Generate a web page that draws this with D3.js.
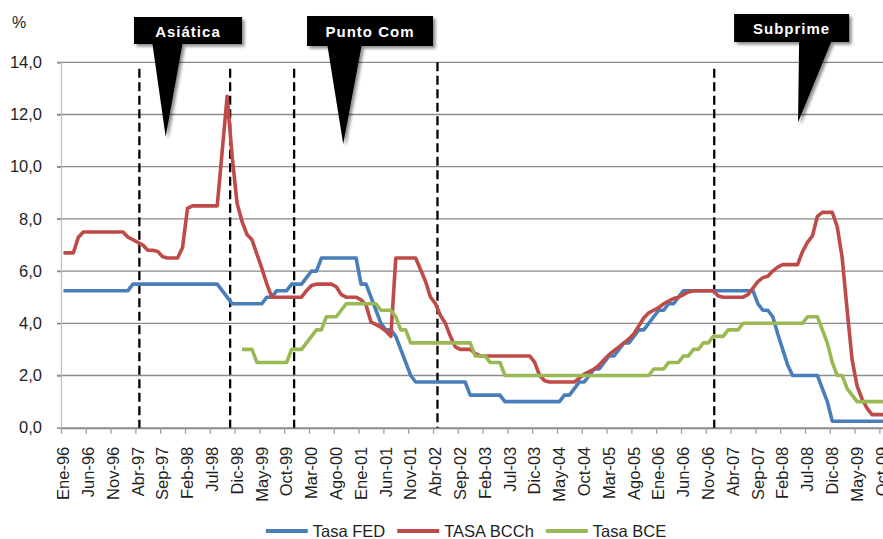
<!DOCTYPE html>
<html>
<head>
<meta charset="utf-8">
<script src="https://cdn.jsdelivr.net/npm/d3@7/dist/d3.min.js"></script>
<style>
  body { margin: 0; background: #fff; }
  svg { display: block; font-family: "Liberation Sans", Arial, sans-serif; }
</style>
</head>
<body>
<svg id="chart" width="883" height="539"></svg>
<script>
// ---- Data -----------------------------------------------------------------
const monthNames = ["Ene","Feb","Mar","Abr","May","Jun","Jul","Ago","Sep","Oct","Nov","Dic"];
const firstYear = 1996;
const monthCount = 168; // Ene-96 .. Dic-09
const categories = d3.range(monthCount).map(i =>
  monthNames[i % 12] + "-" + String((firstYear + Math.floor(i / 12)) % 100).padStart(2, "0"));

// Tasa FED (%), monthly, Ene-96 .. Dic-09
const tasaFED = [
  5.25,5.25,5.25,5.25,5.25,5.25,5.25,5.25,5.25,5.25,5.25,5.25,   // 1996
  5.25,5.25,5.5,5.5,5.5,5.5,5.5,5.5,5.5,5.5,5.5,5.5,             // 1997
  5.5,5.5,5.5,5.5,5.5,5.5,5.5,5.5,5.25,5.0,4.75,4.75,            // 1998
  4.75,4.75,4.75,4.75,4.75,5.0,5.0,5.25,5.25,5.25,5.5,5.5,       // 1999
  5.5,5.75,6.0,6.0,6.5,6.5,6.5,6.5,6.5,6.5,6.5,6.5,              // 2000
  5.5,5.5,5.0,4.5,4.0,3.75,3.75,3.5,3.0,2.5,2.0,1.75,            // 2001
  1.75,1.75,1.75,1.75,1.75,1.75,1.75,1.75,1.75,1.75,1.25,1.25,   // 2002
  1.25,1.25,1.25,1.25,1.25,1.0,1.0,1.0,1.0,1.0,1.0,1.0,          // 2003
  1.0,1.0,1.0,1.0,1.0,1.25,1.25,1.5,1.75,1.75,2.0,2.25,          // 2004
  2.25,2.5,2.75,2.75,3.0,3.25,3.25,3.5,3.75,3.75,4.0,4.25,       // 2005
  4.5,4.5,4.75,4.75,5.0,5.25,5.25,5.25,5.25,5.25,5.25,5.25,      // 2006
  5.25,5.25,5.25,5.25,5.25,5.25,5.25,5.25,4.75,4.5,4.5,4.25,     // 2007
  3.6,3.0,2.4,2.0,2.0,2.0,2.0,2.0,2.0,1.5,1.0,0.25,              // 2008
  0.25,0.25,0.25,0.25,0.25,0.25,0.25,0.25,0.25,0.25,0.25,0.25    // 2009
];

// TASA BCCh (%), monthly, Ene-96 .. Dic-09
const tasaBCCh = [
  6.7,6.7,6.7,7.3,7.5,7.5,7.5,7.5,7.5,7.5,7.5,7.5,               // 1996
  7.5,7.3,7.2,7.1,7.0,6.8,6.8,6.75,6.55,6.5,6.5,6.5,             // 1997
  6.9,8.4,8.5,8.5,8.5,8.5,8.5,8.5,10.6,12.7,10.4,8.6,            // 1998
  7.9,7.4,7.2,6.65,6.1,5.5,5.0,5.0,5.0,5.0,5.0,5.0,              // 1999
  5.0,5.25,5.45,5.5,5.5,5.5,5.5,5.4,5.1,5.0,5.0,5.0,             // 2000
  4.9,4.7,4.05,3.95,3.85,3.7,3.5,6.5,6.5,6.5,6.5,6.5,            // 2001
  6.05,5.6,5.0,4.75,4.3,4.0,3.5,3.1,3.0,3.0,3.0,2.85,            // 2002
  2.75,2.75,2.75,2.75,2.75,2.75,2.75,2.75,2.75,2.75,2.75,2.5,    // 2003
  2.0,1.8,1.75,1.75,1.75,1.75,1.75,1.75,1.9,2.05,2.15,2.25,      // 2004
  2.4,2.6,2.8,2.95,3.1,3.25,3.4,3.6,3.9,4.2,4.4,4.5,             // 2005
  4.6,4.75,4.85,4.95,5.0,5.1,5.2,5.25,5.25,5.25,5.25,5.25,       // 2006
  5.05,5.0,5.0,5.0,5.0,5.0,5.1,5.35,5.6,5.75,5.8,6.0,            // 2007
  6.15,6.25,6.25,6.25,6.25,6.75,7.1,7.35,8.1,8.25,8.25,8.25,     // 2008
  7.7,6.5,4.5,2.6,1.6,1.1,0.75,0.5,0.5,0.5,0.5,0.5               // 2009
];

// Tasa BCE (%), monthly; series begins Ene-99
const tasaBCE = [
  null,null,null,null,null,null,null,null,null,null,null,null,   // 1996
  null,null,null,null,null,null,null,null,null,null,null,null,   // 1997
  null,null,null,null,null,null,null,null,null,null,null,null,   // 1998
  3.0,3.0,3.0,2.5,2.5,2.5,2.5,2.5,2.5,2.5,3.0,3.0,               // 1999
  3.0,3.25,3.5,3.75,3.75,4.25,4.25,4.25,4.5,4.75,4.75,4.75,      // 2000
  4.75,4.75,4.75,4.75,4.5,4.5,4.5,4.25,3.75,3.75,3.25,3.25,      // 2001
  3.25,3.25,3.25,3.25,3.25,3.25,3.25,3.25,3.25,3.25,3.25,2.75,   // 2002
  2.75,2.75,2.5,2.5,2.5,2.0,2.0,2.0,2.0,2.0,2.0,2.0,             // 2003
  2.0,2.0,2.0,2.0,2.0,2.0,2.0,2.0,2.0,2.0,2.0,2.0,               // 2004
  2.0,2.0,2.0,2.0,2.0,2.0,2.0,2.0,2.0,2.0,2.0,2.25,              // 2005
  2.25,2.25,2.5,2.5,2.5,2.75,2.75,3.0,3.0,3.25,3.25,3.5,         // 2006
  3.5,3.5,3.75,3.75,3.75,4.0,4.0,4.0,4.0,4.0,4.0,4.0,            // 2007
  4.0,4.0,4.0,4.0,4.0,4.0,4.25,4.25,4.25,3.75,3.25,2.5,          // 2008
  2.0,2.0,1.5,1.25,1.0,1.0,1.0,1.0,1.0,1.0,1.0,1.0               // 2009
];

const yTicks = [0, 2, 4, 6, 8, 10, 12, 14];
const xLabelStep = 5;

const seriesNames = ["Tasa FED", "TASA BCCh", "Tasa BCE"];
const seriesColors = ["#4a7ebb", "#be4b48", "#98b954"];

// Crisis boundaries (month position) and callouts
const crisisLines = [
  { month: 15.3, top: 13.75 },
  { month: 33.6, top: 13.75 },
  { month: 46.5, top: 13.75 },
  { month: 75.4, top: 14.0 },
  { month: 131.2, top: 13.75 }
];
const callouts = [
  { label: "Asiática",  boxMonth: 25.1,  boxWidth: 108, boxTop: 17, boxBottom: 44, baseOffset: -20.5, baseWidth: 30, tipMonth: 20.6,  tipValue: 11.15, textY: 36.5 },
  { label: "Punto Com", boxMonth: 61.8,  boxWidth: 126, boxTop: 16, boxBottom: 46, baseOffset: -25.5, baseWidth: 34, tipMonth: 56.4,  tipValue: 10.87, textY: 37.3 },
  { label: "Subprime",  boxMonth: 146.8, boxWidth: 115, boxTop: 14, boxBottom: 42, baseOffset: 23.5,  baseWidth: 32, tipMonth: 148.1, tipValue: 11.7,  textY: 34.3 }
];

// ---- Layout ---------------------------------------------------------------
const plot = { left: 61, top: 62.3, bottom: 427.7, monthWidth: 4.96 };

const svg = d3.select("#chart");
const x = d3.scaleLinear().domain([0, monthCount])
  .range([plot.left, plot.left + monthCount * plot.monthWidth]);
const xc = i => x(i + 0.5);               // centre of a month slot
const y = d3.scaleLinear().domain([0, 14]).range([plot.bottom, plot.top]);

const locale = d3.formatLocale({ decimal: ",", thousands: ".", grouping: [3], currency: ["$", ""] });
const fmt = locale.format(".1f");

const defs = svg.append("defs");
const shadow = defs.append("filter").attr("id", "shadow")
  .attr("x", "-20%").attr("y", "-20%").attr("width", "150%").attr("height", "150%");
shadow.append("feDropShadow").attr("dx", 2.5).attr("dy", 2.5)
  .attr("stdDeviation", 1.6).attr("flood-color", "#000").attr("flood-opacity", 0.45);

// gridlines
svg.append("g").selectAll("line").data(yTicks.filter(d => d > 0)).join("line")
  .attr("x1", plot.left - 4).attr("x2", 883)
  .attr("y1", d => y(d)).attr("y2", d => y(d))
  .attr("stroke", "#8a8a8a").attr("stroke-width", 1.3);

// y axis
const yAxis = svg.append("g").attr("transform", `translate(${plot.left},0)`)
  .call(d3.axisLeft(y).tickValues(yTicks).tickFormat(fmt).tickSize(4).tickPadding(15));
yAxis.select(".domain").attr("stroke", "#c0c0c0").attr("stroke-width", 1.3);
yAxis.selectAll(".tick line").attr("stroke", "#8a8a8a").attr("stroke-width", 1.3);
yAxis.selectAll("text").attr("font-size", 16.5).attr("fill", "#1e1e1e")
  .attr("font-family", "Liberation Sans, Arial, sans-serif");

svg.append("text").attr("x", 12).attr("y", 28).attr("font-size", 16)
  .attr("fill", "#1e1e1e").text("%");

// x axis (tick marks at month boundaries, labels centred on month)
const xAxis = svg.append("g").attr("transform", `translate(0,${plot.bottom})`)
  .call(d3.axisBottom(x).tickValues(d3.range(0, monthCount + 1, xLabelStep))
    .tickFormat("").tickSize(6).tickSizeOuter(0));
xAxis.select(".domain").attr("stroke", "#8a8a8a").attr("stroke-width", 2);
xAxis.selectAll(".tick line").attr("stroke", "#a0a0a0").attr("stroke-width", 1.3);

svg.append("g").selectAll("text")
  .data(d3.range(0, monthCount, xLabelStep))
  .join("text")
  .attr("transform", i => `translate(${xc(i)},${plot.bottom + 19}) rotate(-90)`)
  .attr("text-anchor", "end").attr("dy", "0.35em")
  .attr("font-size", 16.5).attr("fill", "#1e1e1e")
  .text(i => categories[i]);

// crisis boundary lines
svg.append("g").selectAll("line").data(crisisLines).join("line")
  .attr("x1", d => x(d.month + 0.5)).attr("x2", d => x(d.month + 0.5))
  .attr("y1", d => y(d.top)).attr("y2", plot.bottom)
  .attr("stroke", "#000").attr("stroke-width", 2.3)
  .attr("stroke-dasharray", "9,4.5");

// series lines
const line = d3.line()
  .defined(d => d != null)
  .x((d, i) => xc(i))
  .y(d => y(d));

[tasaFED, tasaBCCh, tasaBCE].forEach((values, k) => {
  svg.append("path").datum(values)
    .attr("d", line)
    .attr("fill", "none")
    .attr("stroke", seriesColors[k])
    .attr("stroke-width", 3.6)
    .attr("stroke-linejoin", "round");
});

// callouts
const cg = svg.append("g");
callouts.forEach(c => {
  const cx = xc(c.boxMonth);
  const x0 = cx - c.boxWidth / 2, x1 = cx + c.boxWidth / 2;
  const bx = cx + c.baseOffset;
  const tx = xc(c.tipMonth), ty = y(c.tipValue);
  const p = d3.path();
  p.moveTo(x0, c.boxTop);
  p.lineTo(x1, c.boxTop);
  p.lineTo(x1, c.boxBottom);
  p.lineTo(bx + c.baseWidth / 2, c.boxBottom);
  p.lineTo(tx, ty);
  p.lineTo(bx - c.baseWidth / 2, c.boxBottom);
  p.lineTo(x0, c.boxBottom);
  p.closePath();
  cg.append("path").attr("d", p.toString()).attr("fill", "#000")
    .attr("filter", "url(#shadow)");
  cg.append("text").attr("x", cx).attr("y", c.textY)
    .attr("text-anchor", "middle").attr("font-size", 15).attr("font-weight", "bold")
    .attr("letter-spacing", 1).attr("fill", "#fff").text(c.label);
});

// legend
const legendY = 531;
const lg = svg.append("g");
const lineLen = 42, textGap = 5, itemGap = 12;
const items = seriesNames.map((name, k) => {
  const g = lg.append("g");
  g.append("line").attr("x1", 0).attr("x2", lineLen).attr("y1", 0).attr("y2", 0)
    .attr("stroke", seriesColors[k]).attr("stroke-width", 4);
  const t = g.append("text").attr("x", lineLen + textGap).attr("dy", "0.35em")
    .attr("font-size", 16.5).attr("fill", "#1e1e1e").text(name);
  return { g, w: lineLen + textGap + t.node().getComputedTextLength() };
});
const total = d3.sum(items, d => d.w) + itemGap * (items.length - 1);
let lx = 466 - total / 2;
items.forEach(it => {
  it.g.attr("transform", `translate(${lx},${legendY})`);
  lx += it.w + itemGap;
});
</script>
</body>
</html>
